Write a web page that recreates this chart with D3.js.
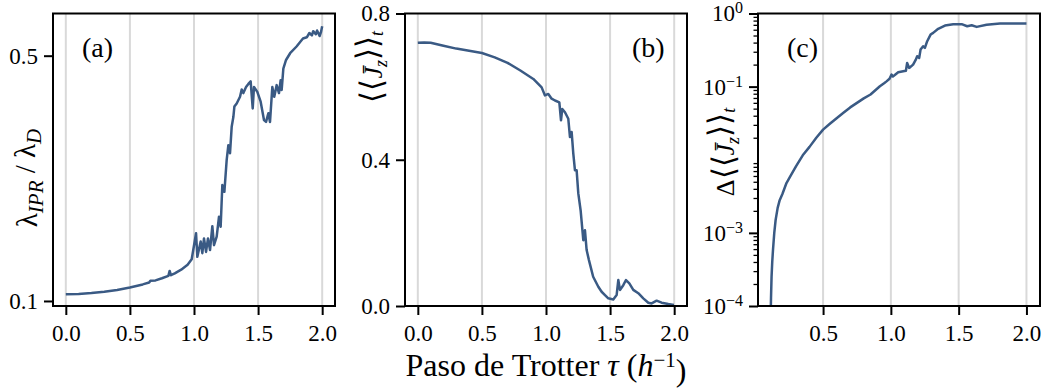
<!DOCTYPE html>
<html>
<head>
<meta charset="utf-8">
<script src="https://cdn.jsdelivr.net/npm/d3@7"></script>
<style>
body { margin: 0; background: #fff; }
text { font-family: "Liberation Serif", "DejaVu Serif", serif; }
</style>
</head>
<body>
<div id="chart"></div>
<script>
var w = 1048;
var h = 389;
var lineColor = "#3a5a84";
var gridColor = "#d9d9d9";

// (a) lambda_IPR / lambda_D
var tauA = [0, 0.1, 0.2, 0.3, 0.4, 0.5, 0.6, 0.65, 0.66, 0.7, 0.75, 0.8, 0.81, 0.82, 0.85, 0.9, 0.95, 0.982,
  1.016, 1.026, 1.052, 1.065, 1.078, 1.094, 1.109, 1.125, 1.143, 1.156, 1.177, 1.195, 1.208, 1.221, 1.237,
  1.255, 1.268, 1.281, 1.294, 1.307, 1.315, 1.333, 1.359, 1.372, 1.385, 1.406, 1.424, 1.442, 1.458, 1.468,
  1.494, 1.520, 1.546, 1.562, 1.580, 1.593, 1.611, 1.626, 1.645, 1.663, 1.676, 1.684, 1.697, 1.718, 1.75,
  1.8, 1.85, 1.88, 1.9, 1.92, 1.93, 1.95, 1.96, 1.98, 1.99, 2.0];
var iprA = [0.111, 0.1115, 0.113, 0.115, 0.118, 0.122, 0.127, 0.130, 0.133, 0.1335, 0.137, 0.141, 0.149, 0.142,
  0.145, 0.151, 0.159, 0.168, 0.2104, 0.172, 0.197, 0.178, 0.202, 0.180, 0.202, 0.183, 0.222, 0.191, 0.205,
  0.2375, 0.221, 0.289, 0.278, 0.330, 0.354, 0.341, 0.384, 0.400, 0.417, 0.422, 0.433, 0.445, 0.439, 0.449,
  0.454, 0.458, 0.414, 0.449, 0.441, 0.425, 0.395, 0.392, 0.406, 0.392, 0.449, 0.433, 0.452, 0.439, 0.460,
  0.444, 0.479, 0.493, 0.504, 0.515, 0.528, 0.530, 0.537, 0.533, 0.540, 0.535, 0.541, 0.532, 0.538, 0.548];

// (b) <<Jz>>_t
var tauB = [0, 0.05, 0.1, 0.2, 0.3, 0.4, 0.5, 0.6, 0.7, 0.8, 0.901, 0.966, 0.992, 1.018, 1.044, 1.070, 1.104,
  1.117, 1.127, 1.148, 1.174, 1.187, 1.200, 1.213, 1.226, 1.239, 1.252, 1.270, 1.291, 1.304, 1.317, 1.335,
  1.368, 1.408, 1.434, 1.460, 1.486, 1.525, 1.551, 1.564, 1.577, 1.603, 1.624, 1.650, 1.681, 1.720, 1.759,
  1.798, 1.824, 1.863, 1.902, 1.954, 1.998];
var jzB = [0.720, 0.721, 0.720, 0.712, 0.704, 0.698, 0.692, 0.680, 0.665, 0.644, 0.621, 0.598, 0.576, 0.580,
  0.567, 0.562, 0.557, 0.508, 0.539, 0.530, 0.512, 0.462, 0.476, 0.417, 0.371, 0.371, 0.308, 0.262, 0.180,
  0.207, 0.153, 0.1255, 0.080, 0.0527, 0.039, 0.030, 0.021, 0.018, 0.030, 0.071, 0.044, 0.057, 0.071, 0.062,
  0.044, 0.035, 0.021, 0.009, 0.007, 0.0145, 0.009, 0.0055, 0.003];

// (c) Delta <<Jz>>_t (log)
var tauC = [0.112, 0.116, 0.120, 0.125, 0.131, 0.14, 0.15, 0.165, 0.18, 0.2, 0.23, 0.26, 0.3, 0.35, 0.4, 0.45,
  0.5, 0.55, 0.6, 0.65, 0.7, 0.75, 0.8, 0.85, 0.919, 0.95, 0.968, 0.99, 1.005, 1.015, 1.029, 1.054, 1.091,
  1.111, 1.120, 1.135, 1.164, 1.184, 1.194, 1.209, 1.219, 1.238, 1.251, 1.268, 1.293, 1.312, 1.349, 1.399,
  1.460, 1.522, 1.563, 1.596, 1.633, 1.706, 1.805, 1.903, 2.0];
var djC = [5e-5, 1.3e-4, 2.5e-4, 4e-4, 6e-4, 1.0e-3, 1.5e-3, 2.2e-3, 2.8e-3, 3.4e-3, 4.8e-3, 6.0e-3, 8.1e-3,
  0.0115, 0.015, 0.020, 0.0258, 0.031, 0.037, 0.044, 0.052, 0.060, 0.069, 0.078, 0.101, 0.111, 0.118, 0.128,
  0.146, 0.138, 0.144, 0.157, 0.162, 0.165, 0.211, 0.180, 0.200, 0.234, 0.26, 0.247, 0.321, 0.356, 0.338,
  0.418, 0.515, 0.543, 0.617, 0.685, 0.714, 0.714, 0.670, 0.690, 0.656, 0.700, 0.730, 0.730, 0.730];

var gridAB = [0, 0.5, 1.0, 1.5, 2.0];
var gridC = [0.5, 1.0, 1.5, 2.0];
var yTicksA = [0.1, 0.5];
var yTicksB = [0.0, 0.4, 0.8];
var yTicksC = [1, 0.1, 0.001, 0.0001];

var svg = d3.select("#chart")
            .append("svg")
            .attr("width", w)
            .attr("height", h);

var axTop = 13.5, axBottom = 306, pw = 282;

function styleAxis(g, fs) {
  g.select(".domain").remove();
  g.attr("font-family", "Liberation Serif, serif").attr("font-size", fs);
  g.selectAll(".tick line").attr("stroke", "#000").attr("stroke-width", 2);
  g.selectAll(".tick text").attr("fill", "#000");
}

function panel(left, x, y, xs, ys, gridTicks, xTicks, yTicks, yFmt, id) {
  var g = svg.append("g");
  g.append("clipPath").attr("id", id)
    .append("rect").attr("x", left).attr("y", axTop).attr("width", pw).attr("height", axBottom - axTop);

  g.selectAll(".grid")
    .data(gridTicks)
    .enter()
    .append("line")
    .attr("x1", function(d) { return x(d); })
    .attr("x2", function(d) { return x(d); })
    .attr("y1", axTop)
    .attr("y2", axBottom)
    .attr("stroke", gridColor)
    .attr("stroke-width", 2);

  var line = d3.line()
    .x(function(d, i) { return x(xs[i]); })
    .y(function(d, i) { return y(ys[i]); });

  g.append("path")
    .attr("d", line(xs))
    .attr("clip-path", "url(#" + id + ")")
    .attr("fill", "none")
    .attr("stroke", lineColor)
    .attr("stroke-width", 2.5)
    .attr("stroke-linejoin", "round");

  var xAx = g.append("g")
    .attr("transform", "translate(0," + axBottom + ")")
    .call(d3.axisBottom(x).tickValues(xTicks).tickSize(9).tickPadding(10).tickFormat(d3.format(".1f")));
  styleAxis(xAx, 23);

  var yAx = g.append("g")
    .attr("transform", "translate(" + left + ",0)")
    .call(d3.axisLeft(y).tickValues(yTicks).tickSize(9).tickPadding(6).tickFormat(yFmt));
  styleAxis(yAx, 23);

  g.append("rect")
    .attr("x", left).attr("y", axTop)
    .attr("width", pw).attr("height", axBottom - axTop)
    .attr("fill", "none")
    .attr("stroke", "#000")
    .attr("stroke-width", 2);
  return {g: g, yAx: yAx};
}

// math-ish label writer
function mathText(t, parts) {
  var shift = 0;
  parts.forEach(function(p) {
    var s = t.append("tspan").text(p.t);
    var target = p.sub ? 0.28 : (p.sup ? -0.42 : 0);
    if (p.fs) s.attr("font-size", p.fs);
    if (p.it) s.attr("font-style", "italic");
    if (p.ff) s.attr("font-family", p.ff);
    if (p.fw) s.attr("font-weight", p.fw);
    var dyPx = target - shift;
    if (dyPx !== 0) s.attr("dy", dyPx + "em");
    shift = target;
  });
}

// panel (a)
var xA = d3.scaleLinear().domain([-0.1, 2.1]).range([53, 53 + pw]);
var yA = d3.scaleLinear().domain([0.0918, 0.5688]).range([axBottom, axTop]);
panel(53, xA, yA, tauA, iprA, gridAB, gridAB, yTicksA, d3.format(".1f"), "clipA");

// panel (b)
var xB = d3.scaleLinear().domain([-0.1, 2.1]).range([405, 405 + pw]);
var yB = d3.scaleLinear().domain([0, 0.8]).range([axBottom, axTop]);
panel(405, xB, yB, tauB, jzB, gridAB, gridAB, yTicksB, d3.format(".1f"), "clipB");

// panel (c)
var xC = d3.scaleLinear().domain([0.02, 2.1]).range([758, 758 + pw]);
var yC = d3.scaleLog().domain([1e-4, 1]).range([axBottom, axTop]);
var pc = panel(758, xC, yC, tauC, djC, gridC, gridC, yTicksC, function() { return ""; }, "clipC");
pc.yAx.selectAll(".tick text").each(function(d) {
  var t = d3.select(this);
  var e = Math.round(Math.log10(d));
  t.text("10");
  t.append("tspan").attr("dy", "-0.5em").attr("font-size", 16).text(e === 0 ? "0" : "\u2212" + (-e));
});
var minors = [];
[-4, -3, -2, -1].forEach(function(e) {
  for (var k = 2; k <= 9; k++) minors.push(k * Math.pow(10, e));
});
var mAx = pc.g.append("g")
  .attr("transform", "translate(758,0)")
  .call(d3.axisLeft(yC).tickValues(minors).tickSize(4.5).tickFormat(function() { return ""; }));
mAx.select(".domain").remove();
mAx.selectAll(".tick line").attr("stroke", "#000").attr("stroke-width", 1.3);

// panel tags
svg.append("text").attr("x", 82).attr("y", 57).attr("font-size", 28).text("(a)");
svg.append("text").attr("x", 632).attr("y", 57).attr("font-size", 28).text("(b)");
svg.append("text").attr("x", 787).attr("y", 57).attr("font-size", 28).text("(c)");

// y labels
var ylA = svg.append("text").attr("transform", "translate(37,178) rotate(-90)")
  .attr("text-anchor", "middle").attr("font-size", 29);
mathText(ylA, [{t: "\u03bb"}, {t: "IPR", it: true, sub: true, fs: 21}, {t: " / \u03bb"}, {t: "D", it: true, sub: true, fs: 21}]);

var bra = "\u27e8\u27e8", ket = "\u27e9\u27e9";
var brFont = "DejaVu Sans";
var ylB = svg.append("text").attr("transform", "translate(382,31) rotate(-90)")
  .attr("text-anchor", "end").attr("font-size", 26);
mathText(ylB, [{t: bra, ff: brFont, fw: 200, fs: 31}, {t: "J\u0304", it: true}, {t: "z", it: true, sub: true, fs: 18},
  {t: ket, ff: brFont, fw: 200, fs: 31}, {t: "t", it: true, sub: true, fs: 18}]);

var ylC = svg.append("text").attr("transform", "translate(734,152) rotate(-90)")
  .attr("text-anchor", "middle").attr("font-size", 26);
mathText(ylC, [{t: "\u0394"}, {t: bra, ff: brFont, fw: 200, fs: 31}, {t: "J\u0304", it: true}, {t: "z", it: true, sub: true, fs: 18},
  {t: ket, ff: brFont, fw: 200, fs: 31}, {t: "t", it: true, sub: true, fs: 18}]);

// x label
var xl = svg.append("text").attr("x", 546).attr("y", 376).attr("text-anchor", "middle").attr("font-size", 32);
mathText(xl, [{t: "Paso de Trotter "}, {t: "\u03c4", it: true}, {t: " ("}, {t: "h", it: true},
  {t: "\u22121", sup: true, fs: 21}, {t: ")"}]);
</script>
</body>
</html>
